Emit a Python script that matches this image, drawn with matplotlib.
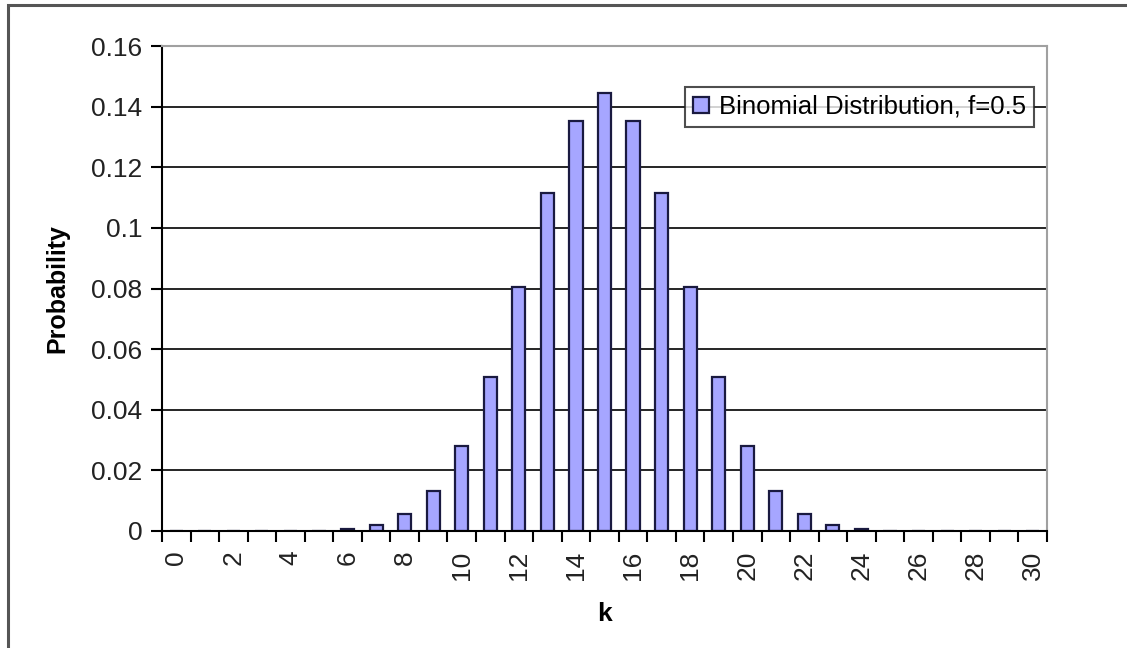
import numpy as np
import matplotlib.pyplot as plt
from matplotlib.patches import Rectangle

plt.rcParams["font.family"] = ["Liberation Sans", "DejaVu Sans"]

# ---------------------------------------------------------------------------
# Datos
# ---------------------------------------------------------------------------
k = list(range(31))
prob = [0.0, 0.0, 0.0, 0.0, 0.00003, 0.0001, 0.0005, 0.0019, 0.0055, 0.0133,
        0.028, 0.0509, 0.0806, 0.1115, 0.1354, 0.1445, 0.1354, 0.1115, 0.0806,
        0.0509, 0.028, 0.0133, 0.0055, 0.0019, 0.0005, 0.0001, 0.00003, 0.0,
        0.0, 0.0, 0.0]
k_labels = [str(v) for v in range(0, 31, 2)]
y_ticks = [0, 0.02, 0.04, 0.06, 0.08, 0.1, 0.12, 0.14, 0.16]
y_labels = ["0", "0.02", "0.04", "0.06", "0.08", "0.1", "0.12", "0.14", "0.16"]

fig = plt.figure(figsize=(11.27, 6.48), dpi=100)
ax = fig.add_axes([162 / 1127, 1 - 531 / 648, (1047 - 162) / 1127, (531 - 46) / 648])

# marco exterior (cortado a la derecha y abajo)
fig.patches.append(Rectangle((8 / 1127, -0.05), 1.2, 1 - 5 / 648 + 0.05,
                             transform=fig.transFigure, fill=False,
                             edgecolor="#555555", linewidth=2.2, zorder=0))

for yv in y_ticks[1:-1]:
    ax.axhline(yv, color="black", linewidth=1.2, zorder=1)

ax.bar(k, prob, width=0.46, color="#a6a6ff", edgecolor="#1a1a40",
       linewidth=1.6, zorder=2, label="Binomial Distribution, f=0.5")

ax.set_xlim(-0.5, 30.5)
ax.set_ylim(0, 0.16)
ax.set_xticks(range(0, 31, 2))
ax.set_xticklabels(k_labels, rotation=90, fontsize=19, color="#222222")
ax.set_xticks(np.arange(-0.5, 31, 1), minor=True)
ax.tick_params(axis="x", which="major", length=0, pad=14)
ax.tick_params(axis="x", which="minor", length=8, width=1.5, direction="out")
ax.set_yticks(y_ticks)
ax.set_yticklabels(y_labels, fontsize=19, color="#222222")
ax.tick_params(axis="y", length=8, width=1.5, direction="out", pad=6)

ax.spines["left"].set_linewidth(1.5)
ax.spines["bottom"].set_linewidth(1.5)
ax.spines["top"].set_color("#a0a0a0")
ax.spines["right"].set_color("#a0a0a0")
ax.spines["top"].set_linewidth(1.5)
ax.spines["right"].set_linewidth(1.5)

ax.set_ylabel("Probability", fontsize=18, fontweight="bold", labelpad=16)
ax.set_xlabel("k", fontsize=19, fontweight="bold", labelpad=16)

leg = ax.legend(loc="upper right", bbox_to_anchor=(0.985, 0.915), fontsize=18.5,
                frameon=True, fancybox=False, handlelength=0.6,
                handleheight=0.6, handletextpad=0.4, borderpad=0.3,
                borderaxespad=0)
leg.get_frame().set_edgecolor("#222222")
leg.get_frame().set_linewidth(1.5)

fig.savefig("out.png", dpi=100)
